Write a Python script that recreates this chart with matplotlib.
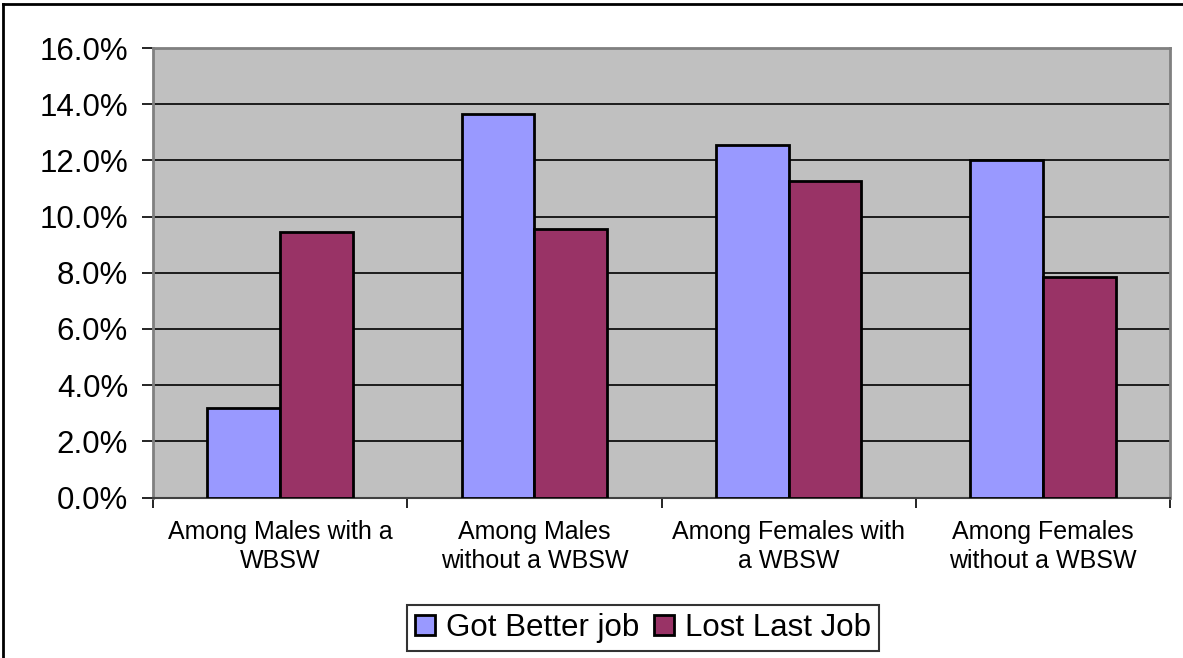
import matplotlib.pyplot as plt
import numpy as np
from matplotlib.lines import Line2D
from matplotlib.ticker import PercentFormatter

plt.rcParams['font.family'] = ['Liberation Sans', 'DejaVu Sans']

# data (percent)
categories = ["Among Males with a\nWBSW", "Among Males\nwithout a WBSW",
              "Among Females with\na WBSW", "Among Females\nwithout a WBSW"]
got_better = [3.2, 13.65, 12.55, 12.0]
lost_last = [9.45, 9.55, 11.27, 7.85]
series_names = ["Got Better job", "Lost Last Job"]

W, H = 1183, 658
fig = plt.figure(figsize=(W / 100, H / 100), dpi=100)
ax = fig.add_axes([153 / W, 1 - 497.6 / H, (1170 - 153) / W, (497.6 - 48) / H])

x = np.arange(len(categories))
w = 1 / 3.5
ax.bar(x - w / 2, got_better, w, color='#9999FF', edgecolor='black', linewidth=2,
       label=series_names[0], zorder=3)
ax.bar(x + w / 2, lost_last, w, color='#993366', edgecolor='black', linewidth=2,
       label=series_names[1], zorder=3)

ax.set_xlim(-0.5, len(categories) - 0.5)
ax.set_ylim(0, 16)
ax.set_facecolor('#C0C0C0')
ax.set_yticks(np.arange(0, 17, 2))
ax.yaxis.set_major_formatter(PercentFormatter(xmax=100, decimals=1))
ax.yaxis.grid(True, color='black', linewidth=1.2)
ax.set_axisbelow(True)

ax.set_xticks(x)
ax.set_xticklabels(categories, fontsize=18, linespacing=1.25)
ax.set_xticks(np.arange(-0.5, len(categories)), minor=True)
ax.tick_params(axis='x', which='major', length=0, pad=16)
ax.tick_params(axis='x', which='minor', length=7, width=1.2, color='black', direction='out')
ax.tick_params(axis='y', labelsize=22.5, length=8, width=1.2, color='black', pad=10)

for side in ['left', 'right', 'top']:
    ax.spines[side].set_color('#808080')
    ax.spines[side].set_linewidth(2)
ax.spines['bottom'].set_color('#404040')
ax.spines['bottom'].set_linewidth(1.5)

leg = fig.legend(loc='center', bbox_to_anchor=(643 / W, 1 - 628 / H), ncol=2,
                 fontsize=22.5, frameon=True, fancybox=False, edgecolor='black',
                 handlelength=0.65, handleheight=0.65, handletextpad=0.35,
                 columnspacing=0.45, borderpad=0.25, borderaxespad=0)
leg.get_frame().set_linewidth(1.5)

# outer chart border (top and left visible)
fig.add_artist(Line2D([3 / W, 3 / W], [0, 1 - 4 / H], transform=fig.transFigure,
                      color='black', linewidth=2))
fig.add_artist(Line2D([3 / W, 1], [1 - 4 / H, 1 - 4 / H], transform=fig.transFigure,
                      color='black', linewidth=2))

fig.savefig('out.png', dpi=100)
